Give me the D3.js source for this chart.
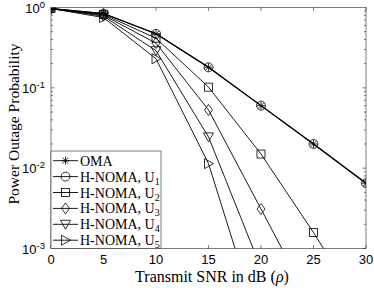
<!DOCTYPE html>
<html><head><meta charset="utf-8">
<script src="https://cdn.jsdelivr.net/npm/d3@7/dist/d3.min.js"></script>
<style>body{margin:0;background:#fff}svg{display:block}</style>
</head><body>
<svg id="c" width="374" height="288"></svg>
<script>
const snr = [0, 5, 10, 15, 20, 25, 30];
const oma = [0.97, 0.84, 0.47, 0.18, 0.06, 0.02, 0.0065];
const u1  = [0.97, 0.84, 0.47, 0.18, 0.06, 0.02, 0.0065];
const u2  = [0.97, 0.82, 0.415, 0.102, 0.015, 0.00158, 0.000145];
const u3  = [0.97, 0.80, 0.36, 0.053, 0.0031, 0.00018, 0.00001];
const u4  = [0.97, 0.78, 0.29, 0.0245, 0.00057, 0.00001, 0.000001];
const u5  = [0.97, 0.75, 0.23, 0.0114, 0.000093, 0.000001, 0.0000001];
const xTicks = [0, 5, 10, 15, 20, 25, 30];
const yTicks = [1e-3, 1e-2, 1e-1, 1];
const yTickExp = ["-3", "-2", "-1", "0"];
const seriesNames = ["OMA", "H-NOMA, U", "H-NOMA, U", "H-NOMA, U", "H-NOMA, U", "H-NOMA, U"];
const seriesSubs = ["", "1", "2", "3", "4", "5"];
const markers = ["star", "circle", "square", "diamond", "tdown", "tright"];
const seriesData = [oma, u1, u2, u3, u4, u5];

const svg = d3.select("#c");
const L = 51, R = 366, T = 7.5, B = 248.5;
const x = d3.scaleLinear().domain([0, 30]).range([L, R]);
const y = d3.scaleLog().domain([1e-3, 1]).range([B, T]);
const axCol = "#262626";
const serif = "Liberation Serif, Times New Roman, serif";
const sans = "Liberation Sans, Arial, sans-serif";

svg.append("defs").append("clipPath").attr("id", "clip").append("rect")
  .attr("x", L).attr("y", T).attr("width", R - L).attr("height", B - T);

function drawMarker(g, type, cx, cy) {
  const r = 4.5;
  let el;
  if (type === "circle") {
    el = g.append("circle").attr("cx", cx).attr("cy", cy).attr("r", r);
  } else if (type === "square") {
    el = g.append("rect").attr("x", cx - 4).attr("y", cy - 4).attr("width", 8).attr("height", 8);
  } else if (type === "diamond") {
    el = g.append("path").attr("d", `M${cx},${cy-5.5}L${cx+4},${cy}L${cx},${cy+5.5}L${cx-4},${cy}Z`);
  } else if (type === "tdown") {
    el = g.append("path").attr("d", `M${cx-5},${cy-4}L${cx+5},${cy-4}L${cx},${cy+5}Z`);
  } else if (type === "tright") {
    el = g.append("path").attr("d", `M${cx-4},${cy-5}L${cx+5},${cy}L${cx-4},${cy+5}Z`);
  } else {
    const a = 4, b = 2.9;
    el = g.append("path").attr("d",
      `M${cx-a},${cy}L${cx+a},${cy}M${cx},${cy-a}L${cx},${cy+a}M${cx-b},${cy-b}L${cx+b},${cy+b}M${cx-b},${cy+b}L${cx+b},${cy-b}`);
  }
  el.attr("fill", "none").attr("stroke", "#000").attr("stroke-width", 0.8);
}

// box and ticks
const ax = svg.append("g");
ax.append("rect").attr("x", L).attr("y", T).attr("width", R - L).attr("height", B - T)
  .attr("fill", "none").attr("stroke", axCol).attr("stroke-width", 0.6);

xTicks.forEach(t => {
  const px = x(t);
  ax.append("line").attr("x1", px).attr("x2", px).attr("y1", B).attr("y2", B - 3.5).attr("stroke", axCol).attr("stroke-width", 0.6);
  ax.append("line").attr("x1", px).attr("x2", px).attr("y1", T).attr("y2", T + 3.5).attr("stroke", axCol).attr("stroke-width", 0.6);
  ax.append("text").attr("x", px).attr("y", B + 15).attr("text-anchor", "middle")
    .attr("font-family", sans).attr("font-size", 13).attr("fill", "#000").text(t);
});

for (let e = -3; e < 0; e++) {
  for (let m = 1; m <= 9; m++) {
    const py = y(m * Math.pow(10, e));
    const len = m === 1 ? 3.5 : 2;
    ax.append("line").attr("x1", L).attr("x2", L + len).attr("y1", py).attr("y2", py).attr("stroke", axCol).attr("stroke-width", 0.6);
    ax.append("line").attr("x1", R).attr("x2", R - len).attr("y1", py).attr("y2", py).attr("stroke", axCol).attr("stroke-width", 0.6);
  }
}
yTicks.forEach((t, i) => {
  const py = y(t);
  const tx = ax.append("text").attr("x", 45).attr("y", py + 5).attr("text-anchor", "end")
    .attr("font-family", sans).attr("font-size", 13).attr("fill", "#000");
  tx.append("tspan").text("10");
  tx.append("tspan").attr("dy", -5).attr("font-size", 9.5).text(yTickExp[i]);
});

// series
const plot = svg.append("g").attr("clip-path", "url(#clip)");
const line = d3.line().x((d, i) => x(snr[i])).y(d => y(d));
seriesData.forEach((s, k) => {
  plot.append("path").attr("d", line(s)).attr("fill", "none").attr("stroke", "#000").attr("stroke-width", k < 2 ? 1.1 : 0.9);
});
const mk = svg.append("g").attr("clip-path", "url(#clip)");
seriesData.forEach((s, k) => {
  s.forEach((v, i) => { if (v >= 1e-3) drawMarker(mk, markers[k], x(snr[i]), y(v)); });
});

// legend
const lg = svg.append("g");
const ly = 151;
lg.append("rect").attr("x", L).attr("y", ly).attr("width", 110).attr("height", B - ly)
  .attr("fill", "#fff").attr("stroke", axCol).attr("stroke-width", 0.6);
seriesNames.forEach((n, k) => {
  const cy = 160.7 + k * 15.9;
  lg.append("line").attr("x1", 53).attr("x2", 78).attr("y1", cy).attr("y2", cy).attr("stroke", "#000").attr("stroke-width", 0.9);
  drawMarker(lg, markers[k], 65.5, cy);
  const t = lg.append("text").attr("x", 80).attr("y", cy + 5)
    .attr("font-family", serif).attr("font-size", 14).attr("fill", "#000");
  t.append("tspan").text(n);
  if (seriesSubs[k]) t.append("tspan").attr("dy", 3).attr("font-size", 10).text(seriesSubs[k]);
});

// axis labels
const xl = svg.append("text").attr("x", 212).attr("y", 282).attr("text-anchor", "middle")
  .attr("font-family", serif).attr("font-size", 16).attr("fill", "#000");
xl.append("tspan").text("Transmit SNR in dB (");
xl.append("tspan").attr("font-style", "italic").text("ρ");
xl.append("tspan").text(")");
svg.append("text").attr("transform", `translate(19,124) rotate(-90)`).attr("text-anchor", "middle")
  .attr("font-family", serif).attr("font-size", 15.5).attr("fill", "#000")
  .text("Power Outage Probability");
</script>
</body></html>
